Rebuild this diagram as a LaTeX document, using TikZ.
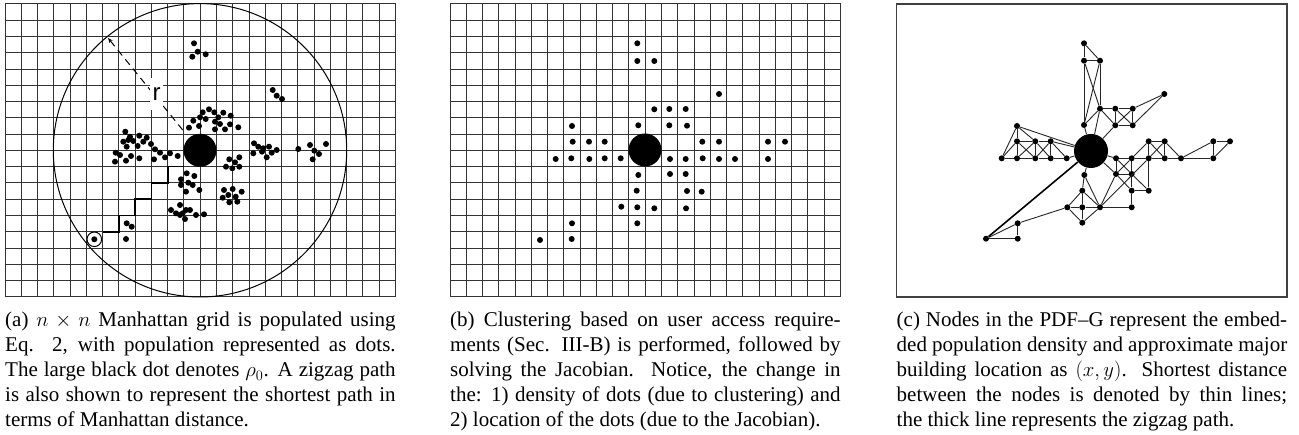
\documentclass[tikz,border=0pt]{standalone}
\usepackage{fontspec}
\setmainfont{Liberation Serif}
\newfontfamily\rfont{Liberation Sans}
\usetikzlibrary{arrows.meta}
\tikzset{
  gridline/.style={draw=black!80, line width=1pt},
  sdot/.style={circle, fill=black, inner sep=0pt, minimum size=6pt},
  bigdot/.style={circle, fill=black, inner sep=0pt, minimum size=33pt},
  edge/.style={draw=black!85, line width=0.9pt},
  thickedge/.style={draw=black, line width=1.6pt},
  capt/.style={text width=390.5pt, align=justify, inner sep=0pt, anchor=base west,
    font=\fontsize{21}{25}\selectfont},
}
\begin{document}
\begin{tikzpicture}[x=1pt,y=-1pt]
\useasboundingbox (0,0) rectangle (1299,435);
% ---------------- panel (a)
\foreach \i in {0,...,24} \draw[gridline] ({5+16.27*\i},4) -- ({5+16.27*\i},296.9);
\foreach \j in {0,...,18} \draw[gridline] (5,{4+16.27*\j}) -- (395.5,{4+16.27*\j});
\node[bigdot] (rhoA) at (200,150.3) {};
\draw[black, line width=1pt] (rhoA.center) circle[radius=146.7];
\coordinate (rtip) at (108,38);
\coordinate (rstart) at (182.7,130);
\draw[black, line width=1pt, dash pattern=on 7pt off 5pt, -{Stealth[length=5pt,width=4pt]}] (rstart) -- (rtip);
\node[fill=white, inner sep=0pt, minimum width=13pt, minimum height=32pt, font=\rfont\fontsize{24}{24}\selectfont] (rlab) at (156.5,94) {r};
% circled source
\node[sdot] (src) at (94.3,239.3) {};
\node[circle, draw=black, line width=1pt, fill=none, inner sep=0pt, minimum size=14.6pt] (srcring) at (src) {};
\coordinate (zz0) at (102.6,231.8);
\coordinate (zz1) at (184,166.7);
\draw[thickedge] (zz0) -- (118.9,231.8) -- (118.9,215.5) -- (135.2,215.5) -- (135.2,199.2)
  -- (151.4,199.2) -- (151.4,183) -- (167.7,183) -- (167.7,166.7) -- (zz1);
\foreach \p in {(194,43.3),(197.7,51.7),(192.3,56.7),(205.7,54.3),
  (272.7,90),(276.7,95.7),(282,99),
  (193.3,120.7),(199,126),(189,127.7),(202.7,112.3),(209,109.3),(214.3,112.3),(223.3,112.7),(230.7,115.7),
  (218.3,117.3),(205.7,119),(215,121.7),(220,124),(230,124.3),(238.3,127.3),(225,129.3),(215,129.3),(200,117.3),
  (125.3,131.7),(130,136.7),(123.3,141.7),(128.3,140),(133.3,141),(139.3,135.7),(146.7,137.7),(143.3,141.7),
  (137.7,146),(126.7,146.7),(151,144),(115.7,152.7),(120,155),(131,156),(139.3,158.3),(126,160.7),(115,161.7),
  (155,149.3),(160,152.7),(154,159.3),(165,157.3),(170,153.3),(177.7,156),
  (254,143.3),(258.3,146.7),(263.3,148.3),(269,146.7),(276.7,150),(253.3,153.3),(262,151.7),(266.7,157.3),(271.7,152.7),
  (298.3,149),(310,145),(326,144),(314.3,150.7),(319,154),(312.7,159.3),
  (239.3,157.3),(229.3,159.3),(235,162.3),(226,166.7),(232.3,168.3),(239.3,166.7),
  (186.7,173.3),(194.3,176),(181,179.3),(188.3,182.7),(192.7,185),(181,185),(186,191.7),(199.3,190),
  (224,190),(232.7,189),(228.3,195),(241.7,191.7),(222.7,197.7),(229.3,202.3),(235.7,196.7),(237.3,201.7),
  (171,210),(180,205),(176,213.3),(182.7,213.3),(186,210),(190,210),(185,219),(196,215),(204,214.3),(180,215),
  (126.7,223.3),(131.7,226.7),(126,239)}
  \node[sdot] at \p {};
\node[capt] (capa) at (5,327) {(a) $n\times n$ Manhattan grid is populated using\linebreak
Eq. 2, with population represented as dots.\linebreak
The large black dot denotes $\rho_0$. A zigzag path\linebreak
is also shown to represent the shortest path in\linebreak
terms of Manhattan distance.};
% ---------------- panel (b)
\foreach \i in {0,...,24} \draw[gridline] ({450+16.27*\i},4) -- ({450+16.27*\i},296.9);
\foreach \j in {0,...,18} \draw[gridline] (450,{4+16.27*\j}) -- (840.5,{4+16.27*\j});
\node[bigdot] (rhoB) at (645,150) {};
\foreach \p in {(637.3,43.3),(637.3,61),(654.3,61),(719,94),(654.3,109.3),(669.3,109),(685.7,109),
  (572,126),(638.3,125.3),(669.3,125.3),(687,125.7),
  (572.7,141.7),(589,141.7),(604.7,141.7),(702.3,141.7),(719,141.7),(768,141.7),(785,141.7),
  (555.7,159),(571.3,158.3),(589.3,159),(604.7,158.3),(620.7,158.3),(670,159),(685.7,159),(702.7,158.3),
  (719,159),(735,159),(768,159),
  (638.3,175),(670,174),(685.7,174),(636.7,190.7),(687,191),(701.7,191.7),
  (621.3,206.7),(637.3,207.3),(654.3,208.3),(686,208.3),(572,223.3),(637.3,223.3),(540,240),(571.7,239)}
  \node[sdot] at \p {};
\node[capt] (capb) at (450,327) {(b) Clustering based on user access require-\linebreak
ments (Sec. III-B) is performed, followed by\linebreak
solving the Jacobian. Notice, the change in\linebreak
the: 1) density of dots (due to clustering) and\linebreak
2) location of the dots (due to the Jacobian).};
% ---------------- panel (c)
\draw[black!75, line width=1.1pt] (896.5,4) rectangle (1287,297);
\node[bigdot, minimum size=34pt] (B) at (1091,151) {};
\foreach \n/\p in {1/{(1084,43.3)},2/{(1084,60.7)},3/{(1100,60.7)},4/{(1164.3,94)},
  5/{(1100,108.7)},6/{(1115.3,108.7)},7/{(1132.7,108.7)},
  8/{(1017,126)},9/{(1084,125)},10/{(1115.3,125.3)},11/{(1132.7,125.3)},
  12/{(1017,141.3)},13/{(1035.3,141.3)},14/{(1050.7,141.3)},15/{(1148.7,141.3)},16/{(1164.7,141.3)},
  17/{(1213.3,141.3)},18/{(1230,141.3)},
  19/{(1001.7,158.3)},20/{(1017,158.3)},21/{(1035.3,158.3)},22/{(1050.7,158.3)},23/{(1066.7,158.3)},
  24/{(1116,158.3)},25/{(1131.7,158.3)},26/{(1148.7,158.3)},27/{(1164.7,158.3)},28/{(1181,158.3)},29/{(1213.3,158.3)},
  30/{(1084.3,175)},31/{(1116,174)},32/{(1131.7,174)},
  33/{(1082.3,190.7)},34/{(1131.7,190.7)},35/{(1148.7,190.7)},
  36/{(1067.3,207.3)},37/{(1082.3,207.3)},38/{(1100,207.3)},39/{(1131.7,207.3)},
  40/{(1017.7,223.3)},41/{(1082.3,222.7)},42/{(986,238.7)},43/{(1017.7,238.7)}}
  \node[sdot] (n\n) at \p {};
\foreach \a/\b in {n1/n2,n1/n3,n2/n3,n2/n9,n3/n5,n2/n5,n3/n9,n9/n5,n9/B,n5/B,n5/n6,n6/n7,n5/n10,n6/n10,
  n7/n11,n10/n11,n6/n11,n7/n10,n7/n4,n11/n4,n10/B,
  n8/n12,n8/n19,n8/n13,n8/B,n12/n13,n13/n14,n14/B,n12/n20,n12/n21,n13/n20,n13/n21,n13/n22,n14/n21,n14/n22,
  n14/n23,n19/n20,n20/n21,n21/n22,n22/n23,n23/B,n19/n12,
  B/n24,n24/n25,n25/n26,n26/n27,n27/n28,n28/n17,n17/n29,n29/n18,n17/n18,n28/n29,n15/n16,n15/n26,n16/n27,
  n15/n27,n16/n26,n16/n28,n15/n25,n25/n31,n24/n31,n24/n32,n25/n32,n31/n32,n32/n34,n34/n35,n32/n35,n26/n35,
  n31/n34,B/n31,B/n30,n30/n33,n30/n38,n33/n36,n33/n37,n33/n38,n36/n37,n37/n38,n36/n41,n41/n38,n37/n41,
  n38/n39,n38/n31,n38/n26,n39/n34,n36/n40,n40/n43,n40/n42,n42/n43}
  \draw[edge] (\a) -- (\b);
\draw[thickedge] (n42) -- (B);
\node[capt] (capc) at (896.5,327) {(c) Nodes in the PDF--G represent the embed-\linebreak
ded population density and approximate major\linebreak
building location as $(x,y)$. Shortest distance\linebreak
between the nodes is denoted by thin lines;\linebreak
the thick line represents the zigzag path.};
\end{tikzpicture}
\end{document}
